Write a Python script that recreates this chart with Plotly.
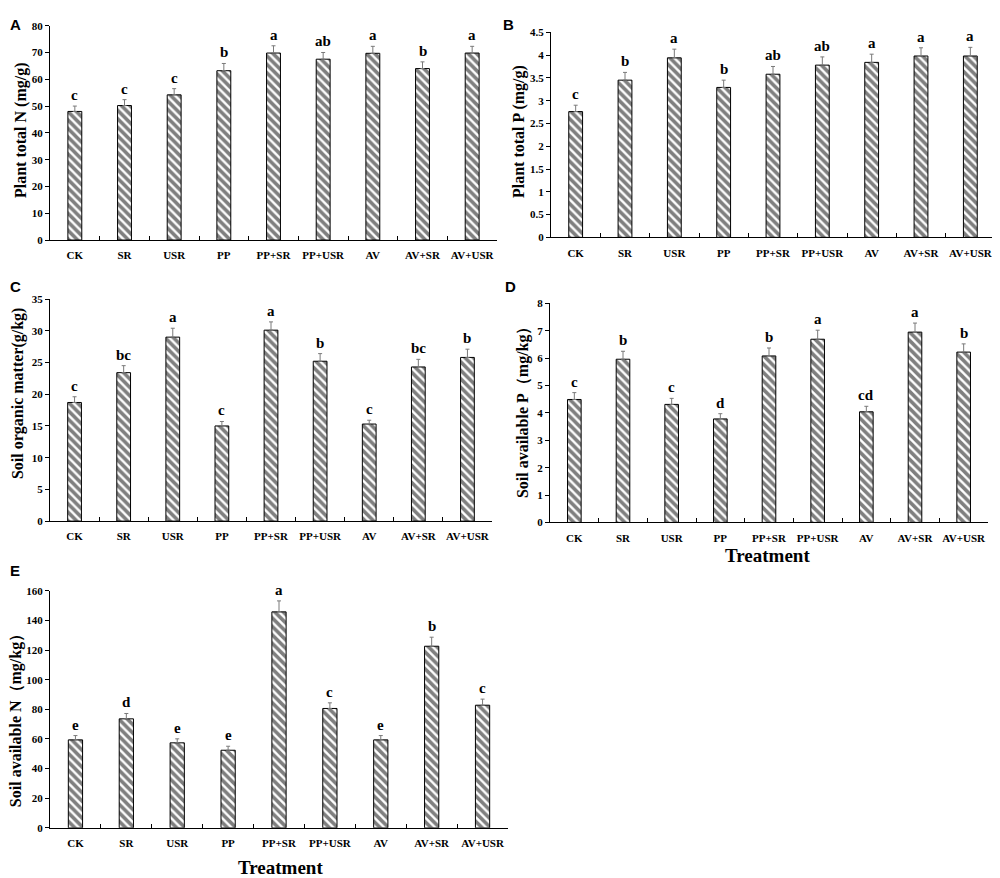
import plotly.graph_objects as go

categories = ["CK", "SR", "USR", "PP", "PP+SR", "PP+USR", "AV", "AV+SR", "AV+USR"]

plant_n = [48.0, 50.2, 54.2, 63.2, 69.8, 67.5, 69.7, 64.0, 69.8]
plant_n_err = [2.0, 2.2, 2.3, 2.7, 2.7, 2.5, 2.6, 2.5, 2.5]
plant_n_sig = ["c", "c", "c", "b", "a", "ab", "a", "b", "a"]

plant_p = [2.76, 3.45, 3.94, 3.29, 3.58, 3.78, 3.84, 3.98, 3.98]
plant_p_err = [0.14, 0.17, 0.19, 0.16, 0.17, 0.18, 0.18, 0.18, 0.19]
plant_p_sig = ["c", "b", "a", "b", "ab", "ab", "a", "a", "a"]

som = [18.7, 23.4, 29.0, 15.0, 30.1, 25.2, 15.3, 24.3, 25.8]
som_err = [0.9, 1.1, 1.4, 0.7, 1.3, 1.2, 0.6, 1.2, 1.3]
som_sig = ["c", "bc", "a", "c", "a", "b", "c", "bc", "b"]

soil_p = [4.49, 5.96, 4.31, 3.78, 6.08, 6.69, 4.04, 6.95, 6.22]
soil_p_err = [0.25, 0.29, 0.22, 0.19, 0.29, 0.33, 0.20, 0.33, 0.30]
soil_p_sig = ["c", "b", "c", "d", "b", "a", "cd", "a", "b"]

soil_n = [59.4, 73.6, 57.4, 52.4, 145.8, 80.6, 59.4, 122.6, 82.8]
soil_n_err = [2.9, 3.6, 2.7, 2.7, 7.4, 3.8, 2.9, 6.1, 4.1]
soil_n_sig = ["e", "d", "e", "e", "a", "c", "e", "b", "c"]

# page offset compensation (window pixels -> figure fraction)
OFFX = 8.0
OFFY = 14.0
SY = 0.986
W = 1000.0 - OFFX
H = 870.0


def px_x(v):
    return (v - OFFX) / W


def px_y(v):
    f = (v - OFFY) / SY
    return min(1.0, 1 - f / H)


panels = [
    dict(v=plant_n, e=plant_n_err, s=plant_n_sig, ymax=80, dtick=10, title="Plant total N (mg/g)",
         x=(50, 497), y=(25.7, 240), letter="A", lp=(8, 5), tp=(21, 130)),
    dict(v=plant_p, e=plant_p_err, s=plant_p_sig, ymax=4.5, dtick=0.5, title="Plant total P (mg/g)",
         x=(551, 995), y=(32.3, 237.3), letter="B", lp=(501, 5), tp=(519, 132)),
    dict(v=som, e=som_err, s=som_sig, ymax=35, dtick=5, title="Soil organic matter(g/kg)",
         x=(50, 492), y=(299, 521), letter="C", lp=(8, 276), tp=(18, 393)),
    dict(v=soil_p, e=soil_p_err, s=soil_p_sig, ymax=8, dtick=1, title="Soil available P（mg/kg）",
         x=(550, 988), y=(303.3, 522.3), letter="D", lp=(503, 276), tp=(523, 408)),
    dict(v=soil_n, e=soil_n_err, s=soil_n_sig, ymax=160, dtick=20, title="Soil available N（mg/kg）",
         x=(50, 508), y=(590.7, 827.7), letter="E", lp=(8, 560), tp=(16, 717)),
]

fig = go.Figure()
annotations = []
serif = "Liberation Serif"

for i, p in enumerate(panels, start=1):
    xa = "x" if i == 1 else f"x{i}"
    ya = "y" if i == 1 else f"y{i}"
    fig.add_trace(go.Bar(
        x=categories, y=p["v"], xaxis=xa, yaxis=ya, width=0.28,
        marker=dict(color="white", line=dict(color="black", width=1),
                    pattern=dict(shape="\\", fgcolor="black", bgcolor="white", size=6, solidity=0.6)),
        error_y=dict(type="data", array=p["e"], symmetric=False, arrayminus=[0] * 9,
                     color="#7a7a7a", thickness=1, width=2),
        showlegend=False,
    ))
    axkey = "xaxis" if i == 1 else f"xaxis{i}"
    aykey = "yaxis" if i == 1 else f"yaxis{i}"
    fig.layout[axkey] = dict(
        domain=[px_x(p["x"][0]), px_x(p["x"][1])], anchor=ya, type="category",
        range=[-0.5, 8.5], showline=True, linecolor="black", linewidth=1,
        ticks="inside", tickson="boundaries", ticklen=4, tickcolor="black",
        tickangle=0,
        tickfont=dict(family=serif, size=11, color="black", weight="bold"),
        ticklabelstandoff=5, showgrid=False, zeroline=False, fixedrange=True,
    )
    fig.layout[aykey] = dict(
        domain=[px_y(p["y"][1]), px_y(p["y"][0])], anchor=xa,
        range=[0, p["ymax"]], dtick=p["dtick"], showline=True, linecolor="black", linewidth=1,
        ticks="outside", ticklen=4, tickcolor="black",
        tickfont=dict(family=serif, size=11, color="black", weight="bold"),
        showgrid=False, zeroline=False, fixedrange=True,
    )
    for c, v, e, s in zip(categories, p["v"], p["e"], p["s"]):
        annotations.append(dict(x=c, y=v + e, xref=xa, yref=ya, text=s, showarrow=False,
                                yanchor="bottom", yshift=1,
                                font=dict(family=serif, size=15, color="black", weight="bold")))
    annotations.append(dict(x=px_x(p["tp"][0]), y=px_y(p["tp"][1]), xref="paper", yref="paper",
                            text=p["title"], textangle=-90, showarrow=False,
                            xanchor="center", yanchor="middle",
                            font=dict(family=serif, size=16, color="black", weight="bold")))
    annotations.append(dict(x=px_x(p["lp"][0]), y=px_y(p["lp"][1]), xref="paper", yref="paper",
                            text=p["letter"], showarrow=False, xanchor="left", yanchor="top",
                            font=dict(family="Liberation Sans", size=15, color="black", weight="bold")))

annotations.append(dict(x=px_x(767), y=px_y(555), xref="paper", yref="paper", text="Treatment",
                        showarrow=False, xanchor="center", yanchor="middle",
                        font=dict(family=serif, size=19, color="black", weight="bold")))
annotations.append(dict(x=px_x(280), y=px_y(867), xref="paper", yref="paper", text="Treatment",
                        showarrow=False, xanchor="center", yanchor="middle",
                        font=dict(family=serif, size=19, color="black", weight="bold")))

fig.update_layout(
    width=int(W), height=int(H), margin=dict(l=0, r=0, t=0, b=0),
    paper_bgcolor="white", plot_bgcolor="white",
    annotations=annotations,
)

fig.write_html("out.html")
